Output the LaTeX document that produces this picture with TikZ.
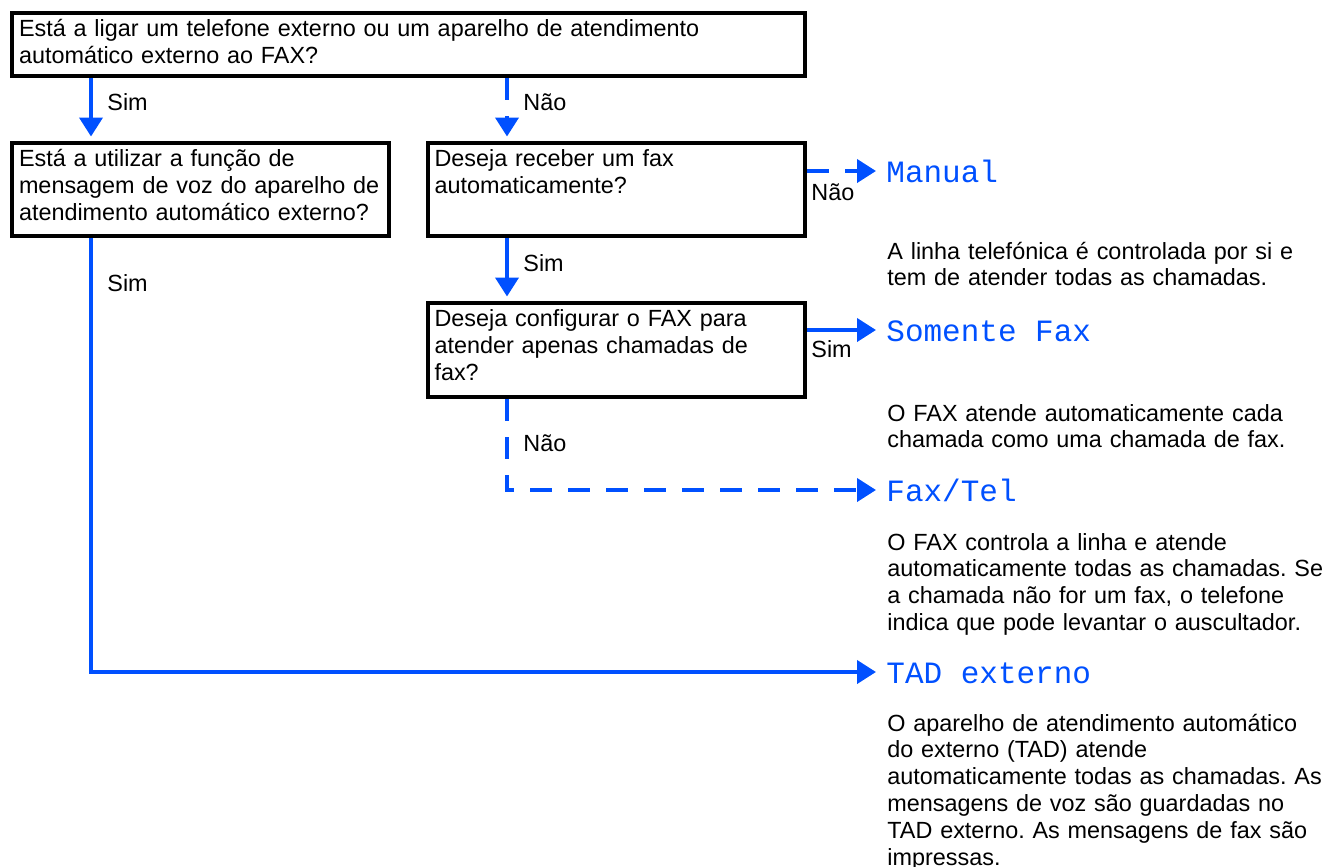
\documentclass[tikz,border=0pt]{standalone}
\usepackage{fontspec}
\setmainfont{Liberation Sans}
\newfontfamily\lcdfont{Liberation Mono}
\usepackage{xcolor}
\usetikzlibrary{arrows.meta}
\definecolor{flowblue}{HTML}{0050FF}
\frenchspacing

\begin{document}
\begin{tikzpicture}[x=0.5pt, y=-0.5pt,
                    question/.style={draw, line width=2pt, anchor=north west, align=left,
                                     inner xsep=3.5pt, inner ysep=3pt, text height=9pt,
                                     font=\fontsize{11.7}{13.5}\selectfont},
                    answer/.style={anchor=base west, inner sep=0pt, font=\fontsize{11.7}{13.5}\selectfont},
                    mode/.style={anchor=west, inner xsep=3pt, inner ysep=0pt, text=flowblue,
                                 text height=11pt, text depth=0pt, font=\fontsize{15.5}{16}\lcdfont},
                    note/.style={anchor=base west, inner sep=0pt, align=left, text width=235pt,
                                 font=\fontsize{11.7}{13.4}\selectfont},
                    flow/.style={draw=flowblue, line width=2pt, shorten >=2pt,
                                 -{Triangle[width=11.5pt,length=9.5pt]}},
                    maybe/.style={flow, dash pattern=on 11pt off 8pt}]
  \useasboundingbox (0,0) rectangle (1338,867);

  % questions
  \node[question, text width=389.5pt, text depth=16.75pt] (ext) at (10,10.5)
    {Está a ligar um telefone externo ou um aparelho de atendimento\\automático externo ao FAX?};
  \node[question, text width=181.5pt, text depth=31.75pt] (voice) at (10,140.5)
    {Está a utilizar a função de\\mensagem de voz do aparelho de\\atendimento automático externo?};
  \node[question, text width=181.75pt, text depth=31.75pt] (auto) at (425.5,140.5)
    {Deseja receber um fax\\automaticamente?};
  \node[question, text width=181.75pt, text depth=32.25pt] (only) at (425.5,300.5)
    {Deseja configurar o FAX para\\atender apenas chamadas de\\fax?};

  % modes
  \node[mode] (manual) at (880,171) {Manual};
  \node[mode] (fax) at (880,330) {Somente Fax};
  \node[mode] (faxtel) at (880,490) {Fax/Tel};
  \node[mode] (tad) at (880,672) {TAD externo};

  \node[note] (manualtxt) at (887,259)
    {A linha telefónica é controlada por si e\\tem de atender todas as chamadas.};
  \node[note] (faxtxt) at (887,421)
    {O FAX atende automaticamente cada\\chamada como uma chamada de fax.};
  \node[note] (faxteltxt) at (887,550)
    {O FAX controla a linha e atende\\automaticamente todas as chamadas. Se\\a chamada não for um fax, o telefone\\indica que pode levantar o auscultador.};
  \node[note] (tadtxt) at (887,731)
    {O aparelho de atendimento automático\\do externo (TAD) atende\\automaticamente todas as chamadas. As\\mensagens de voz são guardadas no\\TAD externo. As mensagens de fax são\\impressas.};

  % answers
  \node[answer] (yes1) at (107,110) {Sim};
  \node[answer] (no1) at (523,110) {Não};
  \node[answer] (no2) at (811,200) {Não};
  \node[answer] (yes2) at (523,271) {Sim};
  \node[answer] (yes3) at (811,357) {Sim};
  \node[answer] (no3) at (523,451) {Não};
  \node[answer] (yes4) at (107,291) {Sim};

  \draw[flow] ([xshift=40.5pt]ext.south west) -- ([xshift=40.5pt]voice.north west);
  \draw[maybe] ([xshift=40.75pt]auto.north west |- ext.south) -- ([xshift=40.75pt]auto.north west);
  \draw[maybe] (manual -| auto.east) -- (manual);
  \draw[flow] ([xshift=40.75pt]auto.south west) -- ([xshift=40.75pt]only.north west);
  \draw[flow] (fax -| only.east) -- (fax);
  \draw[maybe] ([xshift=40.75pt]only.south west) |- (faxtel);
  \draw[flow] ([xshift=40.5pt]voice.south west) |- (tad);
\end{tikzpicture}
\end{document}
